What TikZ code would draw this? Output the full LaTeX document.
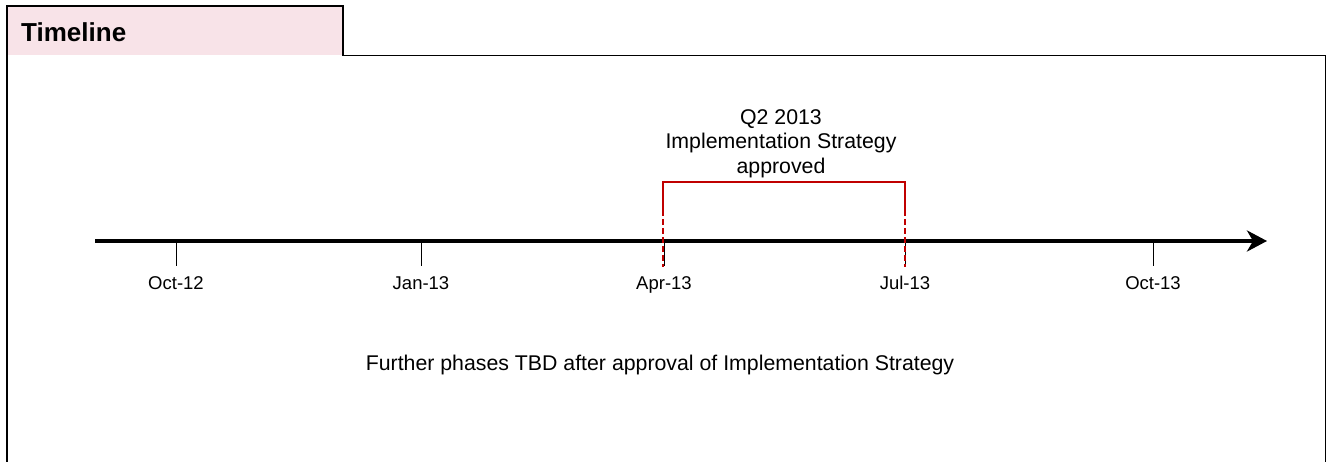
\documentclass[tikz,border=0pt]{standalone}
\usepackage{fontspec}
\setmainfont{Liberation Sans}
\usetikzlibrary{arrows.meta}
\definecolor{tab_pink}{RGB}{248, 227, 232}
\definecolor{ms_red}{RGB}{192, 0, 0}
\tikzstyle{none}=[inner sep=0pt]
\tikzstyle{frame}=[line width=1.5pt,draw=black]
\tikzstyle{axis}=[line width=3.5pt,-{Stealth[length=20pt,width=21pt,inset=6pt]}]
\tikzstyle{tick}=[line width=0.9pt]
\tikzstyle{lbl}=[font=\fontsize{18.5}{22}\selectfont,inner sep=0pt,anchor=base]
\tikzstyle{txt}=[font=\fontsize{21.3}{24.6}\selectfont,inner sep=0pt,align=center]
\tikzstyle{brace}=[line width=2pt,draw=ms_red]
\tikzstyle{guide}=[line width=1.5pt,draw=ms_red,dash pattern=on 6pt off 3pt]

\begin{document}
\begin{tikzpicture}[x=1pt,y=-1pt]
            \useasboundingbox (0, 0) rectangle (1327, 462);
            % tab and frame
            \fill [tab_pink] (7, 6) rectangle (343, 55.5);
            \draw [style=frame] (7, 462) -- (7, 6) -- (343, 6) -- (343, 55.5)
              -- (1325.5, 55.5) -- (1325.5, 462);
            \node [style=none, anchor=base west,
              font=\fontsize{26}{31}\selectfont\bfseries] (0) at (21, 41.5) {Timeline};
            % axis
            \node [style=none] (1) at (95, 241) {};
            \node [style=none] (2) at (1267, 241) {};
            \draw [style=axis] (1.center) to (2.center);
            % ticks and dates
            \node [style=none] (3) at (176, 241) {};
            \node [style=none] (4) at (421, 241) {};
            \node [style=none] (5) at (664, 241) {};
            \node [style=none] (6) at (905, 241) {};
            \node [style=none] (7) at (1153, 241) {};
            \node [style=lbl] (8) at (176, 289.5) {Oct-12};
            \node [style=lbl] (9) at (421, 289.5) {Jan-13};
            \node [style=lbl] (10) at (664, 289.5) {Apr-13};
            \node [style=lbl] (11) at (905, 289.5) {Jul-13};
            \node [style=lbl] (12) at (1153, 289.5) {Oct-13};
            \draw [style=tick] (3.center) to ++(0, 25);
            \draw [style=tick] (4.center) to ++(0, 25);
            \draw [style=tick] (5.center) to ++(0, 25);
            \draw [style=tick] (6.center) to ++(0, 25);
            \draw [style=tick] (7.center) to ++(0, 25);
            % milestone bracket
            \coordinate (13) at (663, 210);
            \coordinate (14) at (663, 182);
            \coordinate (15) at (905, 182);
            \coordinate (16) at (905, 210);
            \coordinate (17) at (663, 267);
            \coordinate (18) at (905, 267);
            \draw [style=brace] (13) -- (14) -- (15) -- (16);
            \draw [style=guide] (13) to (17);
            \draw [style=guide] (16) to (18);
            \node [style=txt, anchor=north] (19) at (781, 109)
              {Q2 2013\\Implementation Strategy\\approved};
            \node [style=txt, anchor=base] (20) at (660, 370.5)
              {Further phases TBD after approval of Implementation Strategy};
    \end{tikzpicture}
\end{document}
